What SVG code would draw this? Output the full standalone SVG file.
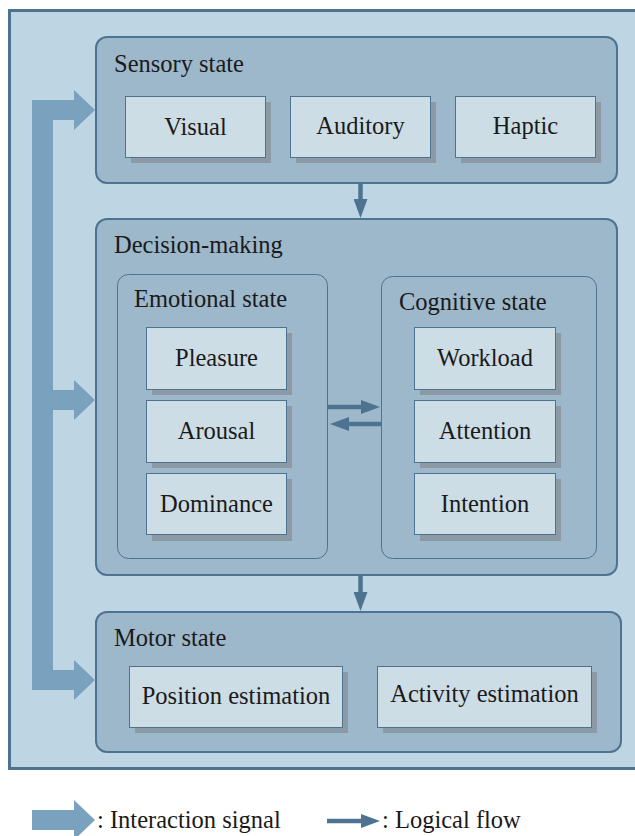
<svg xmlns="http://www.w3.org/2000/svg" width="635" height="836" viewBox="0 0 635 836">
<defs>
<style>
.c{text-anchor:middle}
.frame{fill:#bed5e4;stroke:#4e7391;stroke-width:3}
.main{fill:#9db7cb;stroke:#4e7391;stroke-width:2}
.sub{fill:#9db7cb;stroke:#4e7391;stroke-width:1}
.item{fill:#cddde5;stroke:#4e7391;stroke-width:1}
.shadow{fill:#8b9aa5}
.flow{stroke:#4e7391;stroke-width:4.5;fill:none}
.sig{fill:#7aa1bd}
</style>
<marker id="ah" markerUnits="userSpaceOnUse" viewBox="0 0 19 14" markerWidth="19" markerHeight="14" refX="1" refY="7" orient="auto">
<path d="M0,0 L19,7 L0,14 z" fill="#4e7391"/>
</marker>
</defs>
<rect class="frame" x="9.5" y="10.5" width="640" height="758"/>

<g id="sensory" fill="#1a1a1a">
<rect class="main" x="96" y="37" width="521" height="146" rx="11"/>
<text font-family="'Liberation Serif', serif" font-size="24.5" x="114" y="72">Sensory state</text>
<g id="visual"><rect class="shadow" x="131" y="102" width="140" height="61"/><rect class="item" x="125.5" y="96.5" width="140" height="61"/><text font-family="'Liberation Serif', serif" font-size="24.5" class="c" x="195.5" y="135">Visual</text></g>
<g id="auditory"><rect class="shadow" x="296" y="102" width="140" height="61"/><rect class="item" x="290.5" y="96.5" width="140" height="61"/><text font-family="'Liberation Serif', serif" font-size="24.5" class="c" x="360.5" y="134">Auditory</text></g>
<g id="haptic"><rect class="shadow" x="461" y="102" width="140" height="61"/><rect class="item" x="455.5" y="96.5" width="140" height="61"/><text font-family="'Liberation Serif', serif" font-size="24.5" class="c" x="525.5" y="134">Haptic</text></g>
</g>

<g id="decision" fill="#1a1a1a">
<rect class="main" x="96" y="219" width="521" height="356" rx="11"/>
<text font-family="'Liberation Serif', serif" font-size="24.5" x="114" y="253">Decision-making</text>
<g id="emotional">
<rect class="sub" x="117.5" y="274.5" width="210" height="284" rx="11"/>
<text font-family="'Liberation Serif', serif" font-size="24.5" x="134" y="307">Emotional state</text>
<g id="pleasure"><rect class="shadow" x="152" y="333" width="140" height="62"/><rect class="item" x="146.5" y="327.5" width="140" height="62"/><text font-family="'Liberation Serif', serif" font-size="24.5" class="c" x="216.5" y="366">Pleasure</text></g>
<g id="arousal"><rect class="shadow" x="152" y="406" width="140" height="62"/><rect class="item" x="146.5" y="400.5" width="140" height="62"/><text font-family="'Liberation Serif', serif" font-size="24.5" class="c" x="216.5" y="439">Arousal</text></g>
<g id="dominance"><rect class="shadow" x="152" y="479" width="140" height="62"/><rect class="item" x="146.5" y="473.5" width="140" height="61"/><text font-family="'Liberation Serif', serif" font-size="24.5" class="c" x="216.5" y="512">Dominance</text></g>
</g>
<g id="cognitive">
<rect class="sub" x="381.5" y="276.5" width="215" height="282" rx="11"/>
<text font-family="'Liberation Serif', serif" font-size="24.5" x="399" y="310">Cognitive state</text>
<g id="workload"><rect class="shadow" x="420" y="333" width="141" height="62"/><rect class="item" x="414.5" y="327.5" width="141" height="62"/><text font-family="'Liberation Serif', serif" font-size="24.5" class="c" x="485" y="366">Workload</text></g>
<g id="attention"><rect class="shadow" x="420" y="406" width="141" height="62"/><rect class="item" x="414.5" y="400.5" width="141" height="62"/><text font-family="'Liberation Serif', serif" font-size="24.5" class="c" x="485" y="439">Attention</text></g>
<g id="intention"><rect class="shadow" x="420" y="479" width="141" height="62"/><rect class="item" x="414.5" y="473.5" width="141" height="61"/><text font-family="'Liberation Serif', serif" font-size="24.5" class="c" x="485" y="512">Intention</text></g>
</g>
</g>

<g id="motor" fill="#1a1a1a">
<rect class="main" x="96" y="612" width="525" height="140" rx="11"/>
<text font-family="'Liberation Serif', serif" font-size="24.5" x="114" y="646">Motor state</text>
<g id="position"><rect class="shadow" x="135" y="672" width="213" height="61"/><rect class="item" x="129.5" y="666.5" width="213" height="61"/><text font-family="'Liberation Serif', serif" font-size="24.5" class="c" x="236" y="704">Position estimation</text></g>
<g id="activity"><rect class="shadow" x="383" y="672" width="214" height="61"/><rect class="item" x="377.5" y="666.5" width="214" height="61"/><text font-family="'Liberation Serif', serif" font-size="24.5" class="c" x="484.5" y="702">Activity estimation</text></g>
</g>

<g id="connectors">
<path class="sig" d="M32,100 L74,100 L74,90 L95,110 L74,130 L74,120 L53,120 L53,390 L74,390 L74,380 L95,400 L74,420 L74,410 L53,410 L53,670 L74,670 L74,660 L95,680 L74,700 L74,690 L32,690 Z"/>
<line class="flow" x1="360.5" y1="183" x2="360.5" y2="200" marker-end="url(#ah)"/>
<line class="flow" x1="360.5" y1="576" x2="360.5" y2="593" marker-end="url(#ah)"/>
<line class="flow" x1="327" y1="407" x2="362" y2="407" marker-end="url(#ah)"/>
<line class="flow" x1="381" y1="424" x2="348" y2="424" marker-end="url(#ah)"/>
</g>

<g id="legend" fill="#1a1a1a">
<path class="sig" d="M32,810 L74,810 L74,800 L95,820 L74,840 L74,830 L32,830 Z"/>
<text font-family="'Liberation Serif', serif" font-size="24.5" x="97" y="828">: Interaction signal</text>
<line class="flow" x1="327" y1="821" x2="362" y2="821" marker-end="url(#ah)"/>
<text font-family="'Liberation Serif', serif" font-size="24.5" x="382" y="828">: Logical flow</text>
</g>
</svg>
